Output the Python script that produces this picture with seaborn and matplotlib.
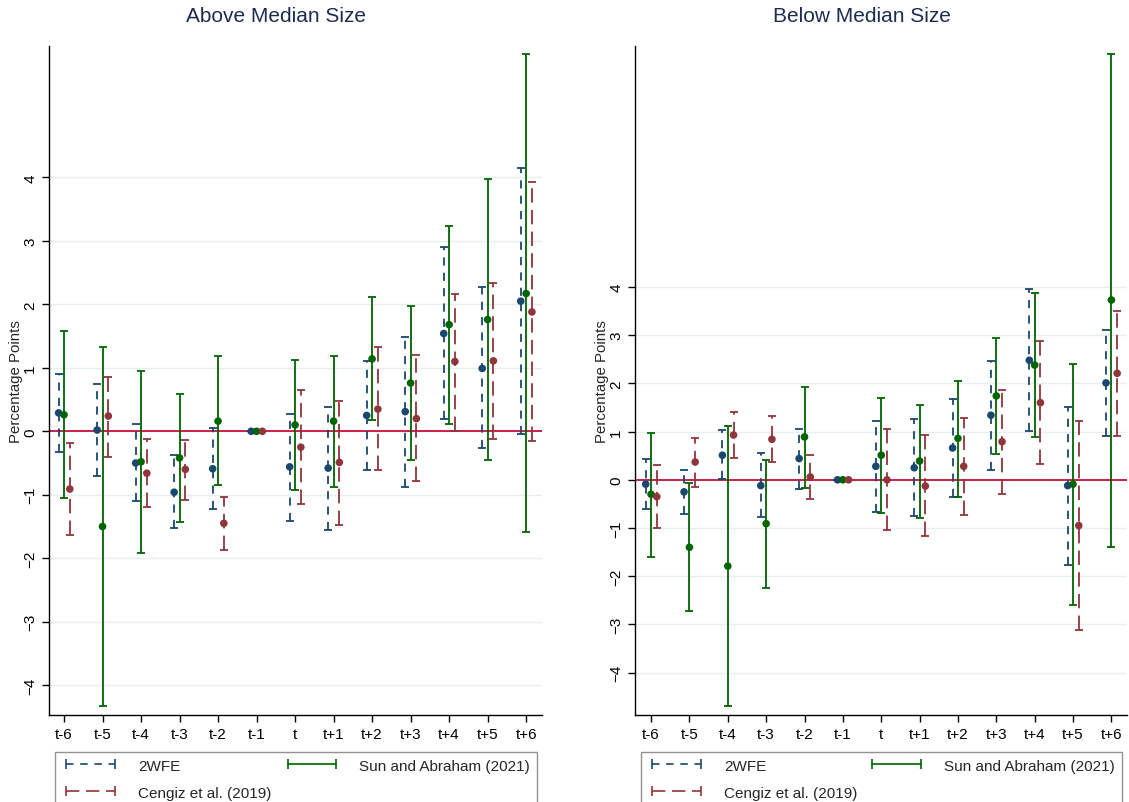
import numpy as np
import pandas as pd
import matplotlib
matplotlib.use("Agg")
import matplotlib.pyplot as plt
import seaborn as sns
from matplotlib.lines import Line2D

periods = ["t-6", "t-5", "t-4", "t-3", "t-2", "t-1", "t", "t+1", "t+2", "t+3", "t+4", "t+5", "t+6"]
models = ["2WFE", "Sun and Abraham (2021)", "Cengiz et al. (2019)"]

# Above median size
above_twfe = [0.29, 0.02, -0.50, -0.96, -0.59, 0.0, -0.56, -0.58, 0.25, 0.31, 1.54, 0.99, 2.05]
above_twfe_lo = [-0.32, -0.70, -1.10, -1.53, -1.22, 0.0, -1.41, -1.56, -0.61, -0.87, 0.19, -0.27, -0.05]
above_twfe_hi = [0.90, 0.75, 0.11, -0.38, 0.05, 0.0, 0.28, 0.39, 1.11, 1.48, 2.91, 2.27, 4.14]

above_sa = [0.26, -1.50, -0.48, -0.42, 0.16, 0.0, 0.10, 0.16, 1.14, 0.76, 1.68, 1.76, 2.17]
above_sa_lo = [-1.05, -4.32, -1.92, -1.43, -0.85, 0.0, -0.93, -0.87, 0.17, -0.46, 0.12, -0.45, -1.59]
above_sa_hi = [1.58, 1.33, 0.95, 0.58, 1.18, 0.0, 1.13, 1.19, 2.11, 1.97, 3.24, 3.97, 5.94]

above_cengiz = [-0.91, 0.24, -0.66, -0.60, -1.45, 0.0, -0.25, -0.49, 0.35, 0.20, 1.10, 1.11, 1.88]
above_cengiz_lo = [-1.64, -0.40, -1.20, -1.08, -1.87, 0.0, -1.14, -1.47, -0.61, -0.79, 0.01, -0.12, -0.16]
above_cengiz_hi = [-0.19, 0.86, -0.12, -0.13, -1.03, 0.0, 0.65, 0.48, 1.32, 1.20, 2.17, 2.33, 3.92]

# Below median size
below_twfe = [-0.09, -0.25, 0.51, -0.12, 0.44, 0.0, 0.28, 0.25, 0.66, 1.34, 2.48, -0.12, 2.01]
below_twfe_lo = [-0.61, -0.71, 0.01, -0.78, -0.19, 0.0, -0.66, -0.76, -0.35, 0.20, 1.02, -1.76, 0.91]
below_twfe_hi = [0.44, 0.20, 1.03, 0.55, 1.05, 0.0, 1.21, 1.26, 1.67, 2.47, 3.95, 1.50, 3.11]

below_sa = [-0.30, -1.40, -1.79, -0.91, 0.89, 0.0, 0.51, 0.39, 0.86, 1.74, 2.38, -0.09, 3.73]
below_sa_lo = [-1.61, -2.73, -4.69, -2.24, -0.16, 0.0, -0.68, -0.80, -0.35, 0.54, 0.89, -2.60, -1.39]
below_sa_hi = [0.98, -0.07, 1.11, 0.42, 1.92, 0.0, 1.70, 1.55, 2.06, 2.94, 3.88, 2.41, 8.83]

below_cengiz = [-0.35, 0.37, 0.93, 0.84, 0.06, 0.0, 0.0, -0.13, 0.28, 0.79, 1.60, -0.95, 2.21]
below_cengiz_lo = [-1.00, -0.14, 0.45, 0.37, -0.39, 0.0, -1.05, -1.17, -0.73, -0.29, 0.32, -3.11, 0.91]
below_cengiz_hi = [0.30, 0.87, 1.41, 1.32, 0.51, 0.0, 1.06, 0.92, 1.29, 1.87, 2.87, 1.21, 3.51]

colors = {"2WFE": "#1a476f", "Sun and Abraham (2021)": "#006400", "Cengiz et al. (2019)": "#90353b"}
styles = {"2WFE": (0, (4.5, 4)), "Sun and Abraham (2021)": "-", "Cengiz et al. (2019)": (0, (8, 4))}
offsets = {"2WFE": -0.14, "Sun and Abraham (2021)": 0.0, "Cengiz et al. (2019)": 0.15}


def make_frame(est, lo, hi):
    rows = []
    for m, e, l, h in zip(models, est, lo, hi):
        for i, p in enumerate(periods):
            rows.append({"period": p, "pos": i + offsets[m], "model": m,
                         "est": e[i], "lo": l[i], "hi": h[i]})
    return pd.DataFrame(rows)


above = make_frame([above_twfe, above_sa, above_cengiz],
                   [above_twfe_lo, above_sa_lo, above_cengiz_lo],
                   [above_twfe_hi, above_sa_hi, above_cengiz_hi])
below = make_frame([below_twfe, below_sa, below_cengiz],
                   [below_twfe_lo, below_sa_lo, below_cengiz_lo],
                   [below_twfe_hi, below_sa_hi, below_cengiz_hi])

sns.set_style("white")
plt.rcParams["font.family"] = ["Liberation Sans", "DejaVu Sans"]

fig = plt.figure(figsize=(11.29, 8.03), dpi=100)
ax1 = fig.add_axes([0.0434, 0.1083, 0.4366, 0.8332])
ax2 = fig.add_axes([0.5624, 0.1083, 0.4356, 0.8332])


def draw_panel(ax, df, ylim, xlim, title, title_x):
    ax.set_xlim(*xlim)
    ax.set_ylim(*ylim)
    for y in range(-4, 5):
        ax.axhline(y, color="#e6eef0", lw=1.0, zorder=0)
    ax.axhline(0, color="#c8103c", lw=1.3, zorder=1)
    for m in models:
        d = df[df["model"] == m]
        eb = ax.errorbar(d["pos"], d["est"], yerr=[d["est"] - d["lo"], d["hi"] - d["est"]],
                         fmt="none", ecolor=colors[m], elinewidth=1.3, capsize=3.2,
                         capthick=1.3, zorder=2)
        eb[2][0].set_linestyle(styles[m])
    sns.scatterplot(data=df, x="pos", y="est", hue="model", palette=colors,
                    s=30, edgecolor="none", legend=False, ax=ax, zorder=3)
    ax.set_xticks(range(len(periods)))
    ax.set_xticklabels(periods)
    ax.set_yticks(range(-4, 5))
    ax.tick_params(axis="both", direction="out", length=5, width=1, labelsize=11,
                   bottom=True, left=True, colors="black")
    ax.tick_params(axis="y", labelrotation=90)
    for lbl in ax.get_yticklabels():
        lbl.set_va("center")
    ax.set_xlabel("")
    ax.set_ylabel("Percentage Points", fontsize=10.8, va="center")
    ax.yaxis.set_label_coords(-0.066, 0.5)
    sns.despine(ax=ax)
    for s in ["left", "bottom"]:
        ax.spines[s].set_color("black")
        ax.spines[s].set_linewidth(1.0)
    fig.text(title_x, 1 - 17 / 803, title, ha="center", va="center",
             fontsize=15, color="#1c2d50")

    handles = []
    for m in ["2WFE", "Cengiz et al. (2019)", "Sun and Abraham (2021)"]:
        handles.append(Line2D([0, 1], [0, 0], color=colors[m], linestyle=styles[m], lw=1.2,
                              marker="|", markersize=7, markeredgewidth=1.2))
    leg = ax.legend(handles=handles, labels=["2WFE", "Cengiz et al. (2019)", "Sun and Abraham (2021)"],
                    ncol=2, loc="upper left", bbox_to_anchor=(0.012, -0.055, 0.978, 0.0),
                    mode="expand", numpoints=2, handlelength=3.8, handletextpad=1.2,
                    fontsize=11, frameon=True, fancybox=False, borderaxespad=0,
                    borderpad=0.45, labelspacing=0.85)
    leg.get_frame().set_edgecolor("#777777")
    leg.get_frame().set_linewidth(1.0)


draw_panel(ax1, above, (-4.47, 6.07), (-0.39, 12.41), "Above Median Size", 276 / 1129)
draw_panel(ax2, below, (-4.88, 9.0), (-0.42, 12.4), "Below Median Size", 862 / 1129)

fig.savefig("out.png", dpi=100)
